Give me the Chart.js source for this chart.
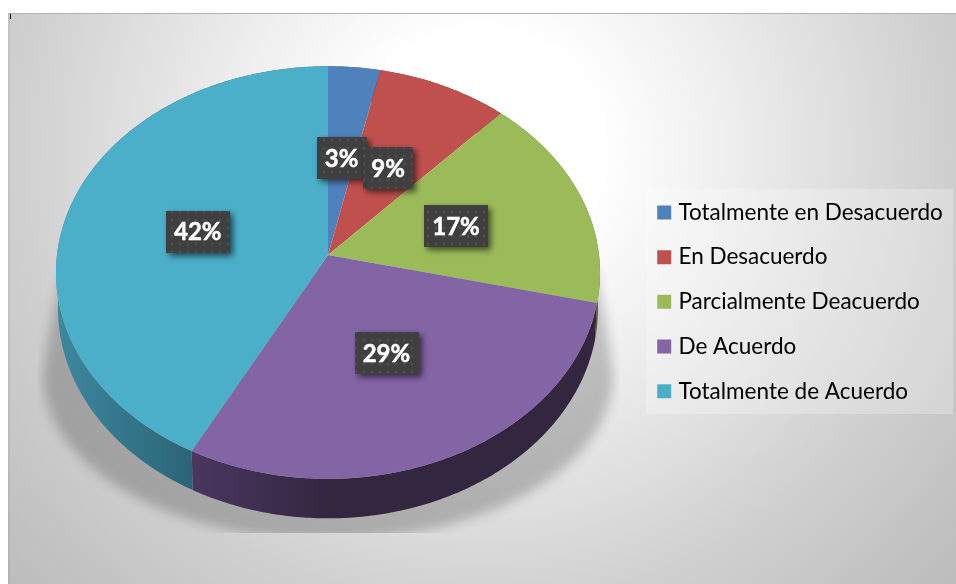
<!DOCTYPE html>
<html><head><meta charset="utf-8">
<style>html,body{margin:0;padding:0;background:#fff}canvas{display:block}</style>
<script src="https://cdn.jsdelivr.net/npm/chart.js@4"></script>
</head><body>
<canvas id="c" width="956" height="584"></canvas>
<script>
const categories = ['Totalmente en Desacuerdo','En Desacuerdo','Parcialmente Deacuerdo','De Acuerdo','Totalmente de Acuerdo'];
const shares = [3.35, 8.5, 16.85, 29, 42.3];
const faceColors = ['#4f81bd','#c0504d','#9bbb59','#8364a5','#4bafca'];
const wallLeft  = ['#3a608c','#8e3a38','#72893f','#4a3660','#3d889f'];
const wallRight = ['#2c4668','#6a2b29','#556730','#33263f','#2a6072'];

// projection of the flat pie onto the tilted disc
const tilt = {p:-0.0852, sy:204/270, lowerY:36, lowerSx:269/271, lowerSy:1.017, midY:17.5};
function project(el, r, a){
  const u = r*Math.cos(a), v = r*Math.sin(a), d = 1 + tilt.p*v;
  return {x: el.x + el.outerRadius*u/d, y: el.y + el.outerRadius*tilt.sy*v/d};
}
function lower(el, pt){
  const my = el.y + tilt.midY;
  return {x: el.x + (pt.x-el.x)*tilt.lowerSx, y: my + tilt.lowerY + (pt.y-my)*tilt.lowerSy};
}
function arcPoints(el){
  const n = Math.max(4, Math.ceil((el.endAngle-el.startAngle)*90)), out=[];
  for(let i=0;i<=n;i++) out.push(project(el,1,el.startAngle+(el.endAngle-el.startAngle)*i/n));
  return out;
}
function dotPattern(ctx){
  const t=document.createElement('canvas'); t.width=t.height=8;
  const g=t.getContext('2d'); g.fillStyle='#3f3f3f'; g.fillRect(0,0,8,8);
  g.fillStyle='#4d4d4d'; g.beginPath(); g.arc(4,4,1.6,0,7); g.fill();
  return ctx.createPattern(t,'repeat');
}
const backdrop = {
  id:'backdrop',
  beforeDraw(chart){
    const ctx=chart.ctx; ctx.save();
    const g=ctx.createRadialGradient(480,150,120,480,150,640);
    g.addColorStop(0,'#ffffff'); g.addColorStop(0.25,'#eeeeee');
    g.addColorStop(0.67,'#cfcfcf'); g.addColorStop(1,'#bcbcbc');
    ctx.fillStyle=g; ctx.fillRect(8,14,948,570);
    ctx.fillStyle='rgba(0,0,0,0.05)'; ctx.fillRect(8,14,2,570);
    ctx.fillStyle='#b4b4b4'; ctx.fillRect(8,13,948,1);
    ctx.fillStyle='#000'; ctx.fillRect(10,14,1,5);
    ctx.fillStyle='rgba(255,255,255,0.25)'; ctx.fillRect(646,189,307,225);
    ctx.restore();
  }
};
const disc = {
  id:'disc',
  beforeDatasetsDraw(chart){
    const ctx=chart.ctx, arcs=chart.getDatasetMeta(0).data, el0=arcs[0];
    // soft shadow, clipped to its panel
    ctx.save();
    ctx.beginPath(); ctx.rect(38,250,582,283); ctx.clip();
    ctx.filter='blur(6px)'; ctx.fillStyle='rgba(0,0,0,0.21)';
    const sy=el0.y+120, sx=el0.x;
    ctx.beginPath(); ctx.moveTo(sx-262,el0.y+10); ctx.lineTo(sx+266,el0.y+10);
    ctx.quadraticCurveTo(sx+278,el0.y+60,sx+285,sy);
    ctx.ellipse(sx,sy,285,165,0,0,Math.PI);
    ctx.quadraticCurveTo(sx-278,el0.y+60,sx-262,el0.y+10);
    ctx.fill();
    ctx.restore();
    // walls
    arcs.forEach((el,i)=>{
      const top=arcPoints(el), low=top.map(p=>lower(el,p));
      const xs=top.concat(low).map(p=>p.x), l=Math.min(...xs), r=Math.max(...xs);
      const g=ctx.createLinearGradient(l,0,r,0);
      g.addColorStop(0,wallLeft[i]); g.addColorStop(0.35,wallRight[i]); g.addColorStop(1,wallRight[i]);
      if(i===4){ const h=ctx.createLinearGradient(l,0,el.x-120,0); h.addColorStop(0,wallLeft[i]); h.addColorStop(1,wallRight[i]); ctx.fillStyle=h; }
      else ctx.fillStyle=g;
      ctx.beginPath();
      top.forEach((p,k)=>k?ctx.lineTo(p.x,p.y):ctx.moveTo(p.x,p.y));
      low.reverse().forEach(p=>ctx.lineTo(p.x,p.y));
      ctx.closePath(); ctx.fill();
    });
    // faces
    arcs.forEach((el,i)=>{
      ctx.fillStyle=faceColors[i]; ctx.beginPath(); ctx.moveTo(el.x,el.y);
      arcPoints(el).forEach(p=>ctx.lineTo(p.x,p.y));
      ctx.closePath(); ctx.fill();
    });
    // value tags
    const pat=dotPattern(ctx);
    ctx.save();
    ctx.font='bold 24px Lato'; ctx.textAlign='center'; ctx.textBaseline='middle';
    ctx.strokeStyle='#fff'; ctx.lineWidth=0.5;
    arcs.forEach((el,i)=>{
      const mid=(el.startAngle+el.endAngle)/2, c=project(el,0.5,mid);
      c.y+=1;
      const txt=Math.round(shares[i])+'%', w=ctx.measureText(txt).width+16, h=42;
      ctx.save();
      ctx.shadowColor='rgba(0,0,0,0.6)'; ctx.shadowBlur=6; ctx.shadowOffsetX=3; ctx.shadowOffsetY=3;
      ctx.fillStyle=pat; ctx.fillRect(Math.round(c.x-w/2),Math.round(c.y-h/2),Math.round(w),h);
      ctx.restore();
      ctx.fillStyle='#fff'; ctx.fillText(txt,c.x,c.y+1); ctx.strokeText(txt,c.x,c.y+1);
    });
    ctx.restore();
    return false;
  },
  afterLayout(chart){
    const L=chart.legend;
    L.left=639; L.top=179; L.right=L.left+L.width; L.bottom=L.top+L.height;
  }
};
new Chart(document.getElementById('c'),{
  type:'pie',
  data:{labels:categories,datasets:[{data:shares,backgroundColor:faceColors,borderWidth:0}]},
  plugins:[backdrop,disc],
  options:{
    responsive:false,animation:false,radius:271,
    layout:{padding:{left:0,right:300,top:0,bottom:74}},
    plugins:{
      tooltip:{enabled:false},
      legend:{
        position:'chartArea',align:'start',
        labels:{
          boxWidth:6,boxHeight:6,padding:22.2,color:'#404040',font:{family:'Lato',size:22.5},
          generateLabels(chart){
            return categories.map((t,i)=>({text:t,fillStyle:faceColors[i],strokeStyle:faceColors[i],lineWidth:8,hidden:false,index:i}));
          }
        }
      }
    }
  }
});
</script>
</body></html>
